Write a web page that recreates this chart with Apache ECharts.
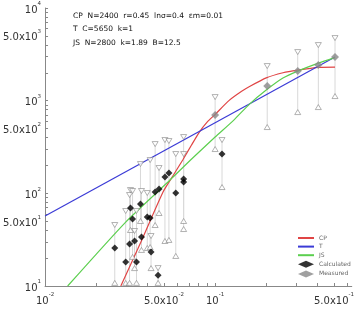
<!DOCTYPE html>
<html><head><meta charset="utf-8">
<script src="https://cdn.jsdelivr.net/npm/echarts@6/dist/echarts.min.js"></script>
<style>html,body{margin:0;padding:0;background:#fff}#c{width:357px;height:310px}</style>
</head><body><div id="c"></div>
<script>
// ---- data ----
const groupX = [0.0257,0.0298,0.0314,0.0318,0.0327,0.0336,0.0345,0.0364,0.0369,0.0399,0.0415,0.0420,0.0444,0.0462,0.0468,0.0507,0.0535,0.0587,0.0653,0.0653,0.1098,0.1,0.2025,0.306,0.4045,0.507];
const upperY = [45.5,64.4,95.9,108.5,105.9,39.2,64.4,207,105.9,100.7,228.7,34.6,340,15.6,187.5,375.8,366.6,265.4,265.4,404.9,375.8,1093,2362,3344,3979,4735];
const lowerY = [10.8,10.8,10.8,40.2,20.6,15.6,10.8,50.3,24.5,25.7,26.3,15.6,45.5,10.8,61.3,30.6,31.4,21.1,50.3,41.2,116.9,300.6,519,753,853,1121];
const calcX = [0.0257,0.0298,0.0314,0.0318,0.0327,0.0336,0.0345,0.0364,0.0369,0.0399,0.0415,0.0420,0.0444,0.0462,0.0468,0.0507,0.0535,0.0587,0.0653,0.0653,0.1098];
const calcY = [25.7,18.2,28.4,69.4,52.8,30.6,18.2,76.7,33.8,55.5,54.1,23.3,103.3,13.1,111.3,149.9,165.6,100.7,142.7,132.4,265.4];
const measX = [0.1,0.2025,0.306,0.4045,0.507];
const measY = [699,1437,2086,2421,2953];
const cpX = [0.0279,0.0364,0.0494,0.0564,0.0645,0.0725,0.0808,0.09,0.1,0.1205,0.1432,0.1594,0.1998,0.2505,0.306,0.4045,0.507];
const cpY = [10,29.1,103.3,153.7,228.7,330,458.5,590,710,1000,1260,1420,1760,2000,2138,2290,2304];
const tX = [0.01,0.507];
const tY = [56.9,2953];
const jsX = [0.01358,0.0298,0.0528,0.0717,0.1,0.1288,0.1594,0.1998,0.2505,0.306,0.4045,0.507];
const jsY = [10,49.0,132.4,228.7,404.9,617.6,919,1301,1753,2086,2544,2916];
const xLabelValues = [0.01,0.05,0.1,0.5];
const xLabelTexts = [['10','-2'],['5.0x10','-2'],['10','-1'],['5.0x10','-1']];
const yLabelValues = [10,50,100,500,1000,5000,10000];
const yLabelTexts = [['10','1'],['5.0x10','1'],['10','2'],['5.0x10','2'],['10','3'],['5.0x10','3'],['10','4']];
const xTickValues = [0.01,0.02,0.03,0.04,0.05,0.06,0.07,0.08,0.09,0.1,0.2,0.3,0.4,0.5,0.6];
const yTickValues = [10,20,30,40,50,60,70,80,90,100,200,300,400,500,600,700,800,900,1000,2000,3000,4000,5000,6000,7000,8000,9000,10000];
const annotations = ['CP  N=2400  r=0.45  ln\u03c3=0.4  \u03b5m=0.01','T  C=5650  k=1','JS  N=2800  k=1.89  B=12.5'];

const zip = (a,b) => a.map((v,i)=>[v,b[i]]);
function labelFmt(values, texts){
  return function(v){
    let best=0, bd=Infinity;
    values.forEach((u,i)=>{const d=Math.abs(Math.log10(u)-Math.log10(v)); if(d<bd){bd=d;best=i;}});
    const t = texts[best];
    return '{b|'+t[0]+'}{s|'+t[1]+'}';
  };
}
const rich = {
  b:{fontSize:10,fontFamily:'DejaVu Sans',color:'#333',lineHeight:14,verticalAlign:'bottom'},
  s:{fontSize:5.5,fontFamily:'DejaVu Sans',color:'#333',lineHeight:14,verticalAlign:'top'}
};
const axisCommon = {
  type:'log', logBase:10,
  axisLine:{lineStyle:{color:'#888',width:1}},
  splitLine:{show:false},
};
const lineIcon = 'path://M0,0L16,0L16,2L0,2Z';
const chart = echarts.init(document.getElementById('c'), null, {renderer:'canvas'});
chart.setOption({
  animation:false,
  backgroundColor:'#fff',
  grid:{left:45,right:0,top:8,bottom:24,containLabel:false},
  xAxis:Object.assign({}, axisCommon, {
    min:0.01, max:0.636,
    axisTick:{show:true,inside:true,length:3,customValues:xTickValues,lineStyle:{color:'#888'}},
    axisLabel:{customValues:xLabelValues,formatter:labelFmt(xLabelValues,xLabelTexts),rich:rich,margin:6}
  }),
  yAxis:Object.assign({}, axisCommon, {
    min:10, max:10000,
    axisTick:{show:true,inside:true,length:3,customValues:yTickValues,lineStyle:{color:'#888'}},
    axisLabel:{customValues:yLabelValues,formatter:labelFmt(yLabelValues,yLabelTexts),rich:rich,margin:4}
  }),
  legend:{
    orient:'vertical', left:298, top:235, padding:0, itemWidth:16, itemHeight:7, itemGap:2.6,
    symbolKeepAspect:true,
    textStyle:{fontSize:6,fontFamily:'DejaVu Sans',color:'#666'},
    data:[{name:'CP',icon:lineIcon},{name:'T',icon:lineIcon},{name:'JS',icon:lineIcon},{name:'Calculated',icon:'diamond'},{name:'Measured',icon:'diamond'}]
  },
  graphic: annotations.map((t,i)=>({type:'text',left:73,top:12+i*13.5,style:{text:t,fontSize:7.5,fontFamily:'DejaVu Sans',fill:'#111'}})),
  series:[
    {type:'custom', name:'range', silent:true, z:1,
      data: groupX.map((x,i)=>[x,lowerY[i],upperY[i]]),
      encode:{x:0,y:[1,2]},
      renderItem:function(params, api){
        const p1 = api.coord([api.value(0), api.value(1)]);
        const p2 = api.coord([api.value(0), api.value(2)]);
        return {type:'line', shape:{x1:p1[0],y1:p1[1],x2:p2[0],y2:p2[1]}, style:{stroke:'#d8d8d8',lineWidth:1}};
      }},
    {type:'line', name:'CP', data:zip(cpX,cpY), symbol:'none', smooth:0.2, z:3, lineStyle:{color:'#e04545',width:1.2}, itemStyle:{color:'#e04545'}},
    {type:'line', name:'T', data:zip(tX,tY), symbol:'none', z:3, lineStyle:{color:'#3b3bd6',width:1.2}, itemStyle:{color:'#3b3bd6'}},
    {type:'line', name:'JS', data:zip(jsX,jsY), symbol:'none', smooth:0.2, z:3, lineStyle:{color:'#5ccf4f',width:1.2}, itemStyle:{color:'#5ccf4f'}},
    {type:'scatter', name:'upper', data:zip(groupX,upperY), symbol:'triangle', symbolRotate:180, symbolSize:[6,5], z:4,
      itemStyle:{color:'#fff',borderColor:'#888',borderWidth:0.8}},
    {type:'scatter', name:'lower', data:zip(groupX,lowerY), symbol:'triangle', symbolSize:[6,5], z:4,
      itemStyle:{color:'#fff',borderColor:'#888',borderWidth:0.8}},
    {type:'scatter', name:'Calculated', data:zip(calcX,calcY), symbol:'diamond', symbolSize:7, z:5, itemStyle:{color:'#000'}},
    {type:'scatter', name:'Measured', data:zip(measX,measY), symbol:'diamond', symbolSize:8, z:5, itemStyle:{color:'#888'}}
  ]
});
</script></body></html>
